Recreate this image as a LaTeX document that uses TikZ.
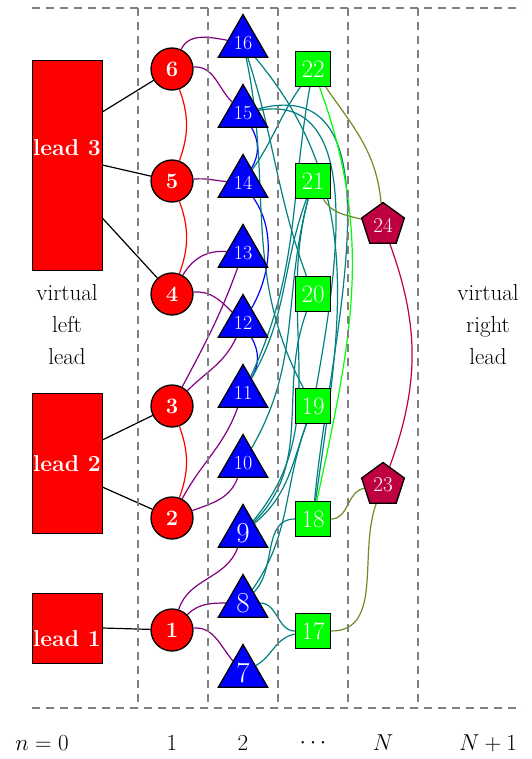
\RequirePackage{fix-cm}
\documentclass[tikz,border=0pt]{standalone}
\usepackage{fontspec}
\usetikzlibrary{shapes.geometric}
\pgfdeclarelayer{bg}
\pgfsetlayers{bg,main}
\definecolor{tealc}{RGB}{0,128,128}
\definecolor{purp}{RGB}{128,0,128}
\definecolor{limec}{RGB}{0,255,0}
\definecolor{olivec}{RGB}{107,142,35}
\definecolor{crim}{RGB}{191,0,64}
\definecolor{dashc}{RGB}{128,128,128}
\begin{document}
\begin{tikzpicture}[x=1pt,y=1pt,
  site/.style={circle, draw=black, line width=1.3pt, fill=red, text=white,
    font=\fontsize{22}{26}\selectfont\bfseries, minimum size=42pt, inner sep=0pt},
  tri/.style={regular polygon, regular polygon sides=3, draw=black, line width=1.3pt,
    fill=blue, text=white, minimum size=57pt, inner sep=0pt, font=\fontsize{20}{24}\selectfont},
  trib/.style={tri, font=\fontsize{29}{32}\selectfont},
  sq/.style={rectangle, draw=black, line width=1.3pt, fill=limec, text=white,
    minimum size=35pt, inner sep=0pt, font=\fontsize{25}{28}\selectfont},
  pent/.style={regular polygon, regular polygon sides=5, draw=black, line width=1.3pt,
    fill=crim, text=white, minimum size=45pt, inner sep=0pt, font=\fontsize{21}{24}\selectfont},
  lead/.style={rectangle, draw=black, line width=0.6pt, fill=red,
    minimum width=70pt, inner sep=0pt},
  leadtxt/.style={text=white, inner sep=0pt, font=\fontsize{23}{26}\selectfont\bfseries},
  lbl/.style={font=\fontsize{23}{29}\selectfont, align=center},
  dsh/.style={dashc, line width=1.6pt, dash pattern=on 8pt off 6pt},
  ed/.style={line width=1.2pt},
  blk/.style={ed, black},
  rd/.style={ed, red},
  pu/.style={ed, purp},
  bl/.style={ed, blue},
  te/.style={ed, tealc},
  li/.style={ed, limec},
  ol/.style={ed, olivec},
  cr/.style={ed, crim}
]
\useasboundingbox (0,0) rectangle (531,-759);

% dashed frame
\coordinate (tl) at (32,-8);
\coordinate (tr) at (522,-8);
\coordinate (bl) at (32,-708);
\coordinate (br) at (522,-708);
\draw[dsh] (tl) -- (tr);
\draw[dsh] (bl) -- (br);
\foreach \xx in {138,208,278,348,418} {
  \draw[dsh] (\xx,-8) -- (\xx,-708);
}

% leads
\node[lead, minimum height=210pt] (L3) at (67,-165) {};
\node[lead, minimum height=140pt] (L2) at (67,-463) {};
\node[lead, minimum height=70pt] (L1) at (67,-628) {};
\node[leadtxt] (L3t) at (67,-148) {lead 3};
\node[leadtxt] (L2t) at (67,-464) {lead 2};
\node[leadtxt] (L1t) at (67,-639) {lead 1};
\node[lbl] (vl) at (67,-325) {virtual\\[3pt]left\\[3pt]lead};
\node[lbl] (vr) at (488,-325) {virtual\\[3pt]right\\[3pt]lead};

% column 1
\node[site] (c6) at (172,-69) {6};
\node[site] (c5) at (172,-181) {5};
\node[site] (c4) at (172,-294) {4};
\node[site] (c3) at (172,-406) {3};
\node[site] (c2) at (172,-518) {2};
\node[site] (c1) at (172,-630) {1};

% column 2
\node[tri] (t16) at (243,-43) {16};
\node[tri] (t15) at (243,-113) {15};
\node[tri] (t14) at (243,-183) {14};
\node[tri] (t13) at (243,-253) {13};
\node[tri] (t12) at (243,-323) {12};
\node[tri] (t11) at (243,-393) {11};
\node[tri] (t10) at (243,-463) {10};
\node[trib] (t9) at (243,-533) {9};
\node[trib] (t8) at (243,-603) {8};
\node[trib] (t7) at (243,-673) {7};

% column 3
\node[sq] (s22) at (313,-69) {22};
\node[sq] (s21) at (313,-181) {21};
\node[sq] (s20) at (313,-294) {20};
\node[sq] (s19) at (313,-406) {19};
\node[sq] (s18) at (313,-519) {18};
\node[sq] (s17) at (313,-631) {17};

% column N
\node[pent] (p24) at (383,-225) {24};
\node[pent] (p23) at (383,-485) {23};

% bottom labels
\node[lbl] (n0) at (42,-743) {$n=0$};
\node[lbl] (n1) at (172,-743) {$1$};
\node[lbl] (n2) at (243,-743) {$2$};
\node[lbl] (n3) at (313,-743) {$\cdots$};
\node[lbl] (n4) at (383,-743) {$N$};
\node[lbl] (n5) at (488,-743) {$N+1$};

\begin{pgfonlayer}{bg}
% lead couplings
\draw[blk] ([yshift=53pt]L3.east) -- (c6);
\draw[blk] (L3.east) -- (c5);
\draw[blk] ([yshift=-53pt]L3.east) -- (c4);
\draw[blk] ([yshift=23pt]L2.east) -- (c3);
\draw[blk] ([yshift=-24pt]L2.east) -- (c2);
\draw[blk] (L1.east) -- (c1);
% red
\draw[rd] (c6) to[out=-70,in=70] (c5);
\draw[rd] (c5) to[out=-70,in=70] (c4);
\draw[rd] (c3) to[out=-70,in=70] (c2);
% purple
\draw[pu] (c6) to[out=65,in=170] (t16);
\draw[pu] (c6) to[out=5,in=135] (t15);
\draw[pu] (c5) to[out=5,in=175] (t14);
\draw[pu] (c4) to[out=60,in=175] (t13);
\draw[pu] (c4) to[out=5,in=135] (t12);
\draw[pu] (c3) to[out=62,in=-110] (t13);
\draw[pu] (c3) to[out=45,in=-115] (t12);
\draw[pu] (c2) to[out=62,in=-110] (t11);
\draw[pu] (c2) to[out=20,in=-110] (t10);
\draw[pu] (c1) to[out=72,in=-110] (t9);
\draw[pu] (c1) to[out=45,in=180] (t8);
\draw[pu] (c1) to[out=5,in=130] (t7);
% blue
\draw[bl] (t15) to[out=-60,in=60] (t14);
\draw[bl] (t14) to[out=-55,in=60,looseness=0.9] (t12);
\draw[bl] (t12) to[out=-60,in=60] (t11);
% teal
\draw[te] (t16) to[out=-72,in=110] (s20);
\draw[te] (t16) to[out=-78,in=118] (s19);
\draw[te] (t16) to[out=-50,in=82] (s18);
\draw[te] (t15) to[out=10,in=80] (s19);
\draw[te] (t15) to[out=15,in=85] (s18);
\draw[te] (t14) to[out=55,in=-125] (s22);
\draw[te] (t11) to[out=65,in=-100] (s22);
\draw[te] (t11) to[out=60,in=-110] (s21);
\draw[te] (t10) to[out=60,in=-105] (s21);
\draw[te] (t9) to[out=50,in=-105] (s21);
\draw[te] (t9) to[out=45,in=-110] (s20);
\draw[te] (t9) to[out=40,in=-110] (s19);
\draw[te] (t8) to[out=55,in=-110] (s19);
\draw[te] (t8) to[out=45,in=180] (s18);
\draw[te] (t8) to[out=0,in=180] (s17);
\draw[te] (t7) to[out=30,in=190] (s17);
% lime
\draw[li] (s22) to[out=-70,in=78] (s18);
% olive
\draw[ol] (s22) to[out=-55,in=95] (p24);
\draw[ol] (s21) to[out=-60,in=165] (p24);
\draw[ol] (s18) to[out=0,in=190] (p23);
\draw[ol] (s17) to[out=0,in=-110] (p23);
% crimson
\draw[cr] (p24) to[out=-70,in=70] (p23);
\end{pgfonlayer}
\end{tikzpicture}
\end{document}
